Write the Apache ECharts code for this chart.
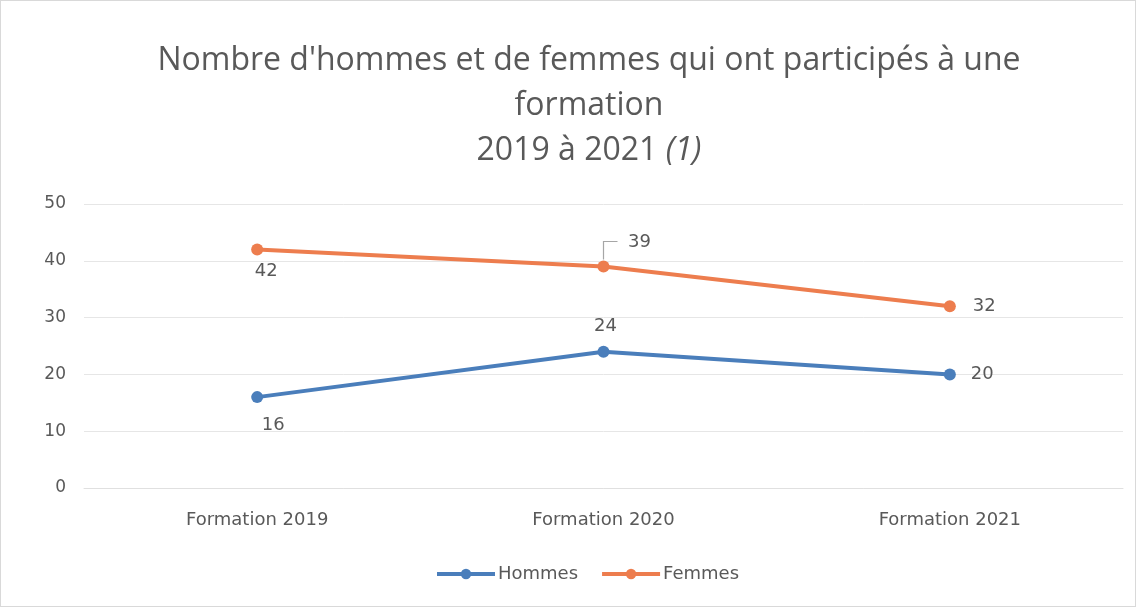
<!DOCTYPE html>
<html>
<head>
<meta charset="utf-8">
<script src="https://cdn.jsdelivr.net/npm/echarts@6/dist/echarts.min.js"></script>
<style>
  html, body { margin: 0; padding: 0; background: #fff; }
  #chart { width: 1136px; height: 607px; box-sizing: border-box; border: 1px solid #d9d9d9; }
</style>
</head>
<body>
<div id="chart"></div>
<script>
// Categories and values per series
const categories = ['Formation 2019', 'Formation 2020', 'Formation 2021'];
const hommes = [16, 24, 20];
const femmes = [42, 39, 32];
const yTicks = { min: 0, max: 50, interval: 10 };

// Label placement per point
const hommesLabelPos = ['bottom', 'top', 'right'];
const femmesLabelPos = ['bottom', 'top', 'right'];

const chart = echarts.init(document.getElementById('chart'));
const textColor = '#595959';
const titleFont = 'Open Sans';
const font = 'DejaVu Sans';

function pointData(values, positions, offsets) {
  return values.map((v, i) => ({
    value: v,
    label: { position: positions[i], offset: offsets[i] }
  }));
}

chart.setOption({
  animation: false,
  title: {
    text: "Nombre d'hommes et de femmes qui ont participés à une\nformation\n2019 à 2021 {i|(1)}",
    left: 583,
    textAlign: 'center',
    top: 32,
    textStyle: {
      color: textColor,
      fontFamily: titleFont,
      fontSize: 32,
      fontWeight: 'normal',
      lineHeight: 45,
      rich: {
        i: { fontStyle: 'italic', fontSize: 32, color: textColor, fontFamily: titleFont, lineHeight: 45 }
      }
    }
  },
  legend: {
    bottom: 18,
    left: 429,
    itemWidth: 58,
    itemHeight: 13,
    itemGap: 22,
    lineStyle: { width: 4 },
    textStyle: { color: textColor, fontFamily: font, fontSize: 18, padding: [0, 0, 0, -2] },
    data: ['Hommes', 'Femmes']
  },
  grid: { left: 83, right: 12, top: 203, bottom: 118 },
  xAxis: {
    type: 'category',
    data: categories,
    boundaryGap: true,
    axisLine: { show: true, lineStyle: { color: '#e0e0e0' } },
    axisTick: { show: false },
    axisLabel: { color: textColor, fontFamily: font, fontSize: 18, margin: 23 }
  },
  yAxis: {
    type: 'value',
    min: yTicks.min,
    max: yTicks.max,
    interval: yTicks.interval,
    axisLine: { show: false },
    axisTick: { show: false },
    axisLabel: { color: textColor, fontFamily: font, fontSize: 17, margin: 18 },
    splitLine: { lineStyle: { color: '#e6e6e6', width: 1 } }
  },
  series: [
    {
      name: 'Hommes',
      type: 'line',
      data: pointData(hommes, hommesLabelPos, [[16, 8], [2, -5], [10, 0]]),
      symbol: 'circle',
      symbolSize: 12,
      lineStyle: { color: '#4a7ebb', width: 4 },
      itemStyle: { color: '#4a7ebb' },
      label: { show: true, color: textColor, fontFamily: font, fontSize: 18 },
      labelLine: { show: false }
    },
    {
      name: 'Femmes',
      type: 'line',
      data: pointData(femmes, femmesLabelPos, [[9, 2], [36, -4], [12, 0]]),
      symbol: 'circle',
      symbolSize: 12,
      lineStyle: { color: '#ed7d4e', width: 4 },
      itemStyle: { color: '#ed7d4e' },
      label: { show: true, color: textColor, fontFamily: font, fontSize: 18 },
      labelLine: { show: false }
    }
  ]
});

// Leader line from the 2020 "Femmes" point up to its label
const p = chart.convertToPixel({ seriesIndex: 1 }, [1, femmes[1]]);
chart.setOption({
  graphic: [{
    type: 'polyline',
    shape: { points: [[p[0], p[1] - 7], [p[0], p[1] - 25], [p[0] + 14, p[1] - 25]] },
    style: { stroke: '#a6a6a6', lineWidth: 1.2, fill: null },
    silent: true
  }]
});
</script>
</body>
</html>
